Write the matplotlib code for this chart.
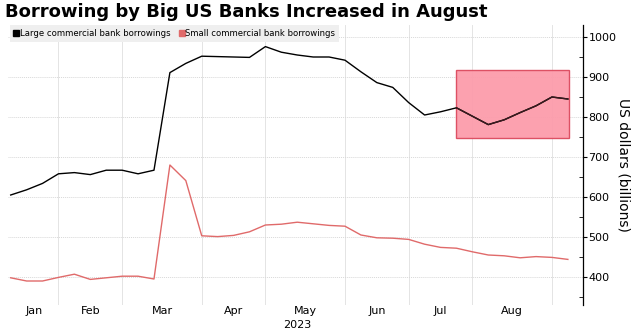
import matplotlib
matplotlib.use("Agg")
import matplotlib.pyplot as plt
from matplotlib.lines import Line2D
from matplotlib.patches import Rectangle
from matplotlib.ticker import MultipleLocator
import numpy as np
import pandas as pd

# weekly data (weeks ending Wednesday)
dates = pd.date_range("2023-01-11", "2023-09-13", freq="W-WED")
large = [605, 618, 634, 658, 661, 656, 667, 667, 658, 667,
         911, 934, 952, 951, 950, 949, 976, 962, 955, 950,
         950, 942, 913, 886, 874, 836, 805, 813, 823, 802,
         781, 793, 811, 828, 850, 845]
small = [398, 390, 390, 399, 407, 394, 398, 402, 402, 395,
         680, 641, 503, 501, 504, 513, 530, 532, 537, 533,
         529, 527, 505, 498, 497, 494, 482, 474, 472, 463,
         455, 453, 448, 451, 449, 444]
labels = ["Large commercial bank borrowings", "Small commercial bank borrowings"]
month_names = ["Jan", "Feb", "Mar", "Apr", "May", "Jun", "Jul", "Aug"]
box_start, box_end = pd.Timestamp("2023-07-26"), pd.Timestamp("2023-09-13")
box_low, box_high = 748, 917

narrow = ["Liberation Sans Narrow", "DejaVu Sans"]

x = np.arange(len(dates))

fig = plt.figure(figsize=(6.36, 3.31), dpi=100)
ax = fig.add_axes([8 / 636, 1 - 305 / 331, (583 - 8) / 636, 280 / 331])

# first week of each month -> vertical gridlines
months = dates.to_period("M")
firsts = [i for i in range(1, len(dates)) if months[i] != months[i - 1]]
for i in firsts:
    ax.axvline(i, color="#e4e4e4", lw=0.7, zorder=0)

ax.plot(x, large, color="black", lw=1.0, zorder=3)
ax.plot(x, small, color="#e06a6a", lw=1.0, zorder=3)

# highlighted August region
bx0 = dates.get_loc(box_start)
bx1 = dates.get_loc(box_end) + 0.1
ax.add_patch(Rectangle((bx0, box_low), bx1 - bx0, box_high - box_low,
                       facecolor="#fc9cab", edgecolor="#dc4a5e", lw=1.0,
                       alpha=0.95, zorder=2))
ax.plot(x[bx0:], large[bx0:], color="#3a1a1e", lw=1.0, zorder=4)

ax.set_xlim(-0.17, 35.95)
ax.set_ylim(330, 1030)

ax.yaxis.tick_right()
ax.yaxis.set_label_position("right")
ax.yaxis.set_major_locator(MultipleLocator(100))
ax.yaxis.set_minor_locator(MultipleLocator(50))
ax.tick_params(axis="y", which="major", direction="out", length=3, width=0.8,
               labelsize=8, pad=1)
ax.tick_params(axis="y", which="minor", direction="in", length=3, width=0.6)
for t in ax.get_yticklabels():
    t.set_family(narrow)
ax.grid(axis="y", which="major", color="#d8d8d8", lw=0.7, ls=(0, (1, 1)))
ax.set_ylabel("US dollars (billions)", rotation=270, labelpad=10, fontsize=10)

for s in ["top", "left", "bottom"]:
    ax.spines[s].set_visible(False)
ax.spines["right"].set_linewidth(0.9)

# month labels centred between month boundaries
bounds = [0] + firsts
ax.set_xticks([])
for k, name in enumerate(month_names):
    lo = bounds[k]
    hi = bounds[k + 1]
    ax.text((lo + hi) / 2, -0.004, name, transform=ax.get_xaxis_transform(),
            ha="center", va="top", fontsize=8, family=narrow)
ax.text(18, -0.054, "2023", transform=ax.get_xaxis_transform(),
        ha="center", va="top", fontsize=8, family=narrow)

handles = [Line2D([], [], ls="", marker="s", color="black", markersize=4.5),
           Line2D([], [], ls="", marker="s", color="#e06a6a", markersize=4.5)]
leg = ax.legend(handles, labels, loc="upper left", ncol=2, fontsize=6.1,
                frameon=True, facecolor="#efefef", edgecolor="none", framealpha=1,
                fancybox=False, handlelength=0.6, handletextpad=0.15,
                columnspacing=1.0, borderpad=0.45, borderaxespad=0.0,
                bbox_to_anchor=(0.003, 1.0))
leg.set_zorder(5)

fig.text(5 / 636, 1 - 12 / 331, "Borrowing by Big US Banks Increased in August",
         fontsize=13, fontweight="bold", ha="left", va="center")

fig.savefig("out.png", dpi=100)
